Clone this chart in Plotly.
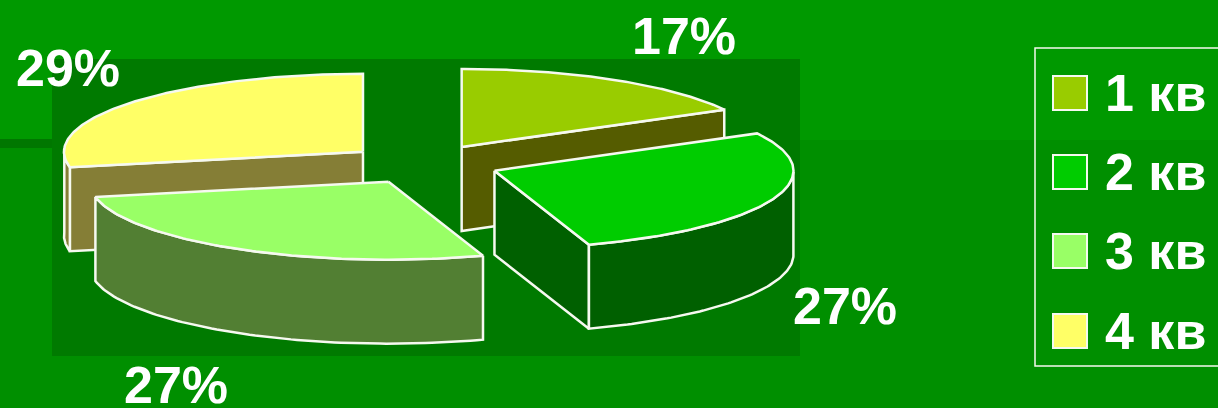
import numpy as np
import plotly.graph_objects as go

# Quarterly shares, percent
quarters = ["1 кв", "2 кв", "3 кв", "4 кв"]
shares = [17, 27, 27, 29]
top_colors = ["#99cc00", "#00cc00", "#99ff66", "#ffff66"]
side_colors = ["#555c00", "#006000", "#527f33", "#857e36"]
label_centres = [(684, 36), (845, 306), (176, 385), (68, 68)]

# Projection of the tilted pie onto the page
CX, CY = 423, 164
RX, RY = 299, 78
DEPTH = 84
EXPLODE = 0.254
# Skew of the view: how far a pie angle is displaced on the page
SKEW_COS, SKEW_SIN = 1.8, -0.8

WIDTH, HEIGHT = 1218, 408
EDGE = dict(color="#f6f9f0", width=2.5)


def view_angle(angle):
    rad = np.radians(angle)
    return angle + SKEW_COS * (1 - np.cos(rad)) + SKEW_SIN * np.sin(rad)


def rim(apex, angles, drop=0.0):
    rad = np.radians(view_angle(angles))
    return apex[0] + RX * np.sin(rad), apex[1] - RY * np.cos(rad) + drop


def face(x, y, color):
    return go.Scatter(
        x=list(x) + [x[0]], y=list(y) + [y[0]], mode="lines", fill="toself",
        fillcolor=color, line=EDGE, hoverinfo="skip", showlegend=False,
    )


def radial_face(apex, angle, color):
    px, py = rim(apex, np.array([angle]))
    xs = [apex[0], px[0], px[0], apex[0]]
    ys = [apex[1], py[0], py[0] + DEPTH, apex[1] + DEPTH]
    return face(xs, ys, color)


def slice_traces(start, end, top, side):
    mid = np.radians((start + end) / 2)
    apex = (CX + EXPLODE * RX * np.sin(mid), CY - EXPLODE * RY * np.cos(mid))
    traces = []
    # Cut faces turned towards the viewer
    if np.cos(np.radians(start - 90)) < -1e-6:
        traces.append(radial_face(apex, start, side))
    if np.cos(np.radians(end + 90)) < -1e-6:
        traces.append(radial_face(apex, end, side))
    # Outer wall: only the front half of the rim shows
    lo, hi = max(start, 90), min(end, 270)
    if lo < hi:
        arc = np.linspace(lo, hi, 80)
        ux, uy = rim(apex, arc)
        lx, ly = rim(apex, arc[::-1], DEPTH)
        traces.append(face(np.r_[ux, lx], np.r_[uy, ly], side))
    # Top surface
    arc = np.linspace(start, end, 120)
    tx, ty = rim(apex, arc)
    traces.append(face(np.r_[apex[0], tx], np.r_[apex[1], ty], top))
    return apex[1], traces


edges = np.cumsum([0] + shares) / sum(shares) * 360
slices = [
    slice_traces(edges[i], edges[i + 1], top_colors[i], side_colors[i])
    for i in range(len(shares))
]

fig = go.Figure()
# Slices further back are drawn first
for _, traces in sorted(slices, key=lambda s: s[0]):
    fig.add_traces(traces)

# Legend keys
legend_y = [93, 172, 251, 331]
fig.add_trace(go.Scatter(
    x=[1070] * 4, y=legend_y, mode="markers", hoverinfo="skip", showlegend=False,
    marker=dict(symbol="square", size=34, color=top_colors,
                line=dict(color="#f6f9f0", width=2)),
))

annotations = [
    dict(x=1103, y=y, text=name, xanchor="left", yanchor="middle", showarrow=False,
         font=dict(family="Liberation Sans", size=52, color="white", weight="bold"))
    for name, y in zip(quarters, legend_y)
]
annotations += [
    dict(x=x, y=y, text=f"{v}%", xanchor="center", yanchor="middle", showarrow=False,
         font=dict(family="Liberation Sans", size=52, color="white", weight="bold"))
    for v, (x, y) in zip(shares, label_centres)
]

shapes = [
    dict(type="rect", x0=0, x1=WIDTH, y0=140, y1=HEIGHT, layer="below",
         fillcolor="#008f00", line=dict(width=0)),
    dict(type="rect", x0=0, x1=52, y0=139, y1=148, layer="below",
         fillcolor="#007700", line=dict(width=0)),
    dict(type="rect", x0=52, x1=800, y0=59, y1=356, layer="below",
         fillcolor="#007a00", line=dict(width=0)),
    dict(type="rect", x0=1035, x1=1222, y0=48, y1=366, layer="below",
         fillcolor="rgba(0,0,0,0)", line=dict(color="#f6f9f0", width=1.5)),
]

fig.update_layout(
    width=WIDTH, height=HEIGHT, margin=dict(l=0, r=0, t=0, b=0),
    paper_bgcolor="#009900", plot_bgcolor="rgba(0,0,0,0)",
    xaxis=dict(range=[0, WIDTH], visible=False, fixedrange=True),
    yaxis=dict(range=[HEIGHT, 0], visible=False, fixedrange=True),
    shapes=shapes, annotations=annotations, showlegend=False,
)
fig.write_html("out.html", config=dict(displayModeBar=False))
